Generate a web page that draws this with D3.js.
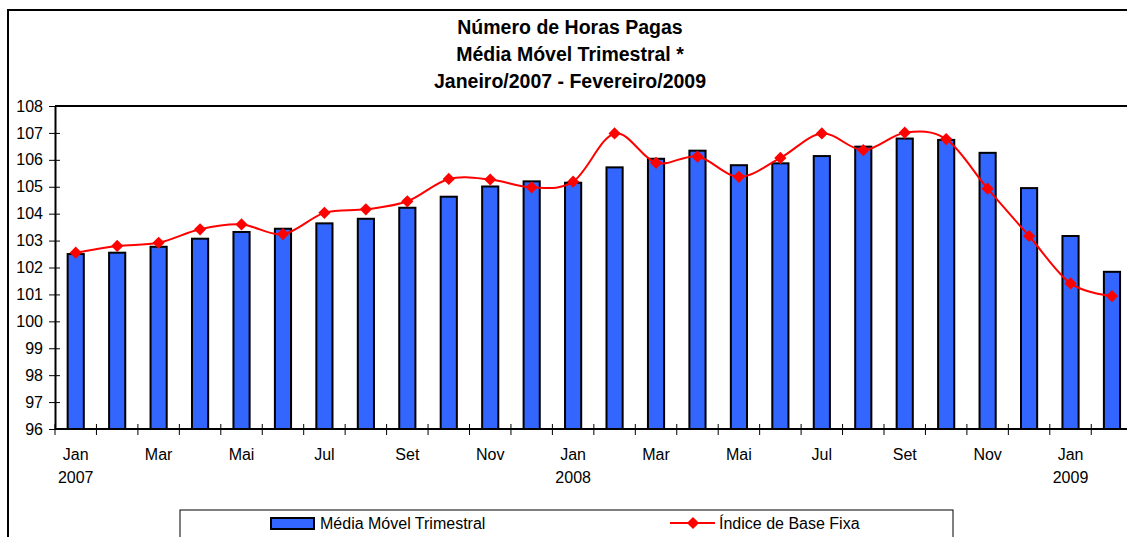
<!DOCTYPE html>
<html>
<head>
<meta charset="utf-8">
<script src="https://cdn.jsdelivr.net/npm/d3@7"></script>
<style>
  body { margin: 0; background: #fff; overflow: hidden; }
  svg { display: block; font-family: "Liberation Sans", Arial, sans-serif; }
</style>
</head>
<body>
<div id="chart"></div>
<script>
// categories: Jan/2007 .. Fev/2009
const months = ["Jan","Fev","Mar","Abr","Mai","Jun","Jul","Ago","Set","Out","Nov","Dez",
                "Jan","Fev","Mar","Abr","Mai","Jun","Jul","Ago","Set","Out","Nov","Dez",
                "Jan","Fev"];
const years = ["2007","","","","","","","","","","","",
               "2008","","","","","","","","","","","",
               "2009",""];
const categories = months.map((m, i) => i);

const mediaMovel = [102.5, 102.55, 102.77, 103.07, 103.32, 103.44, 103.64, 103.81, 104.22, 104.63, 105.01, 105.2,
                    105.15, 105.72, 106.04, 106.34, 105.8, 105.87, 106.14, 106.49, 106.79, 106.74, 106.26, 104.95,
                    103.17, 101.84];
const indiceBase = [102.55, 102.8, 102.92, 103.42, 103.6, 103.24, 104.03, 104.16, 104.46, 105.29, 105.27, 104.98,
                    105.19, 106.98, 105.89, 106.12, 105.37, 106.07, 106.98, 106.36, 107.01, 106.77, 104.93, 103.17,
                    101.41, 100.94];
const yTicks = [96, 97, 98, 99, 100, 101, 102, 103, 104, 105, 106, 107, 108];
const titleLines = ["Número de Horas Pagas", "Média Móvel Trimestral *", "Janeiro/2007 - Fevereiro/2009"];

const W = 1127, H = 537;
const plot = { left: 55, top: 106, bottom: 429, right: 55 + 26 * 41.45 };

const svg = d3.select("#chart").append("svg")
  .attr("width", W).attr("height", H);

// outer chart border (runs off the picture on the right / bottom)
svg.append("rect")
  .attr("x", 8).attr("y", 10)
  .attr("width", 1140).attr("height", 560)
  .attr("fill", "none").attr("stroke", "#000").attr("stroke-width", 2);

// title
svg.append("g").selectAll("text")
  .data(titleLines)
  .enter().append("text")
  .attr("x", 570)
  .attr("y", (d, i) => 34 + i * 27)
  .attr("text-anchor", "middle")
  .attr("font-size", "19.5px")
  .attr("font-weight", "bold")
  .text(d => d);

const x = d3.scaleBand()
  .domain(categories)
  .range([plot.left, plot.right])
  .paddingInner(0.61)
  .paddingOuter(0.305);

const y = d3.scaleLinear()
  .domain([96, 108])
  .range([plot.bottom, plot.top]);

// plot area top border
svg.append("line")
  .attr("x1", plot.left).attr("x2", plot.right)
  .attr("y1", plot.top).attr("y2", plot.top)
  .attr("stroke", "#000").attr("stroke-width", 2);

// bars
svg.append("g").selectAll("rect")
  .data(mediaMovel)
  .enter().append("rect")
  .attr("x", (d, i) => x(i))
  .attr("y", d => y(d))
  .attr("width", x.bandwidth())
  .attr("height", d => y(96) - y(d))
  .attr("fill", "#3366FF")
  .attr("stroke", "#000")
  .attr("stroke-width", 2);

// smoothed line
const line = d3.line()
  .x((d, i) => x(i) + x.bandwidth() / 2)
  .y(d => y(d))
  .curve(d3.curveCardinal.tension(0));

svg.append("path")
  .datum(indiceBase)
  .attr("d", line)
  .attr("fill", "none")
  .attr("stroke", "#FF0000")
  .attr("stroke-width", 2);

const diamond = d3.symbol().type(d3.symbolDiamond2).size(95);
svg.append("g").selectAll("path")
  .data(indiceBase)
  .enter().append("path")
  .attr("d", diamond)
  .attr("transform", (d, i) => `translate(${x(i) + x.bandwidth() / 2},${y(d)})`)
  .attr("fill", "#FF0000");

// y axis
const yAxis = svg.append("g")
  .attr("transform", `translate(${plot.left},0)`)
  .call(d3.axisLeft(y).tickValues(yTicks).tickSize(6).tickPadding(7).tickSizeOuter(0));
yAxis.select(".domain").attr("stroke", "#000").attr("stroke-width", 2);
yAxis.selectAll(".tick line").attr("x2", 5).attr("x1", -6).attr("stroke", "#000");
yAxis.selectAll(".tick text")
  .attr("x", -12)
  .attr("font-size", "16px")
  .attr("font-family", "Liberation Sans, Arial, sans-serif")
  .attr("fill", "#000");

// x axis: line + boundary ticks
const xAxis = svg.append("g");
xAxis.append("line")
  .attr("x1", plot.left).attr("x2", plot.right)
  .attr("y1", plot.bottom).attr("y2", plot.bottom)
  .attr("stroke", "#000").attr("stroke-width", 2);

const step = x.step();
const edges = categories.concat([categories.length]);
xAxis.selectAll(".xtick")
  .data(edges)
  .enter().append("line")
  .attr("class", "xtick")
  .attr("x1", d => plot.left + d * step)
  .attr("x2", d => plot.left + d * step)
  .attr("y1", plot.bottom - 5)
  .attr("y2", plot.bottom + 6)
  .attr("stroke", "#000");

xAxis.selectAll(".mlabel")
  .data(categories.filter(i => i % 2 === 0))
  .enter().append("text")
  .attr("class", "mlabel")
  .attr("x", i => x(i) + x.bandwidth() / 2)
  .attr("y", 460)
  .attr("text-anchor", "middle")
  .attr("font-size", "16px")
  .text(i => months[i]);

xAxis.selectAll(".ylabel")
  .data(categories.filter(i => years[i] !== ""))
  .enter().append("text")
  .attr("class", "ylabel")
  .attr("x", i => x(i) + x.bandwidth() / 2)
  .attr("y", 483)
  .attr("text-anchor", "middle")
  .attr("font-size", "16px")
  .text(i => years[i]);

// legend
const legend = svg.append("g");
legend.append("rect")
  .attr("x", 180).attr("y", 510)
  .attr("width", 773).attr("height", 60)
  .attr("fill", "#fff").attr("stroke", "#000").attr("stroke-width", 1);

legend.append("rect")
  .attr("x", 271).attr("y", 518)
  .attr("width", 43).attr("height", 11)
  .attr("fill", "#3366FF").attr("stroke", "#000").attr("stroke-width", 2);
legend.append("text")
  .attr("x", 320).attr("y", 529)
  .attr("font-size", "16px")
  .text("Média Móvel Trimestral");

legend.append("line")
  .attr("x1", 670).attr("x2", 715)
  .attr("y1", 523).attr("y2", 523)
  .attr("stroke", "#FF0000").attr("stroke-width", 2);
legend.append("path")
  .attr("d", diamond)
  .attr("transform", "translate(693,523)")
  .attr("fill", "#FF0000");
legend.append("text")
  .attr("x", 719).attr("y", 529)
  .attr("font-size", "16px")
  .text("Índice de Base Fixa");
</script>
</body>
</html>
